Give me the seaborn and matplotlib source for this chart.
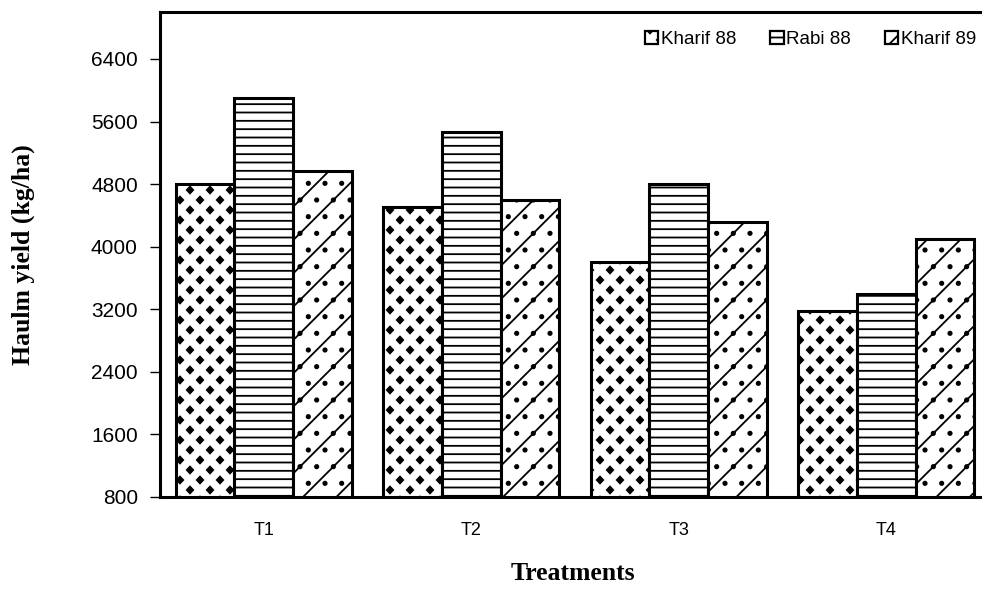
import numpy as np
import pandas as pd
import seaborn as sns
import matplotlib
matplotlib.use("Agg")
import matplotlib.pyplot as plt
import matplotlib.hatch as mhatch
from matplotlib.path import Path
from matplotlib.patches import Patch

# Haulm yield (kg/ha) per treatment and season
treatments = ["T1", "T2", "T3", "T4"]
seasons = ["Kharif 88", "Rabi 88", "Kharif 89"]
kharif_88 = [4800, 4510, 3810, 3180]
rabi_88 = [5900, 5470, 4800, 3390]
kharif_89 = [4970, 4600, 4310, 4100]
y_ticks = [800, 1600, 2400, 3200, 4000, 4800, 5600, 6400]
y_limits = (800, 7000)


class DiamondLattice(mhatch.HatchPatternBase):
    """Staggered filled diamonds, selected with '*' in a hatch string."""

    half_w = 0.032
    half_h = 0.034

    def __init__(self, hatch, density):
        cols = hatch.count('*') * 5
        self.parts = []
        if cols:
            rows = cols * 2
            for r in range(rows + 1):
                y = r / rows
                if r % 2 == 0:
                    xs = np.linspace(0, 1, cols + 1)
                else:
                    xs = (np.arange(cols) + 0.5) / cols
                for x in xs:
                    self.parts.append(np.array([
                        [x, y + self.half_h], [x + self.half_w, y],
                        [x, y - self.half_h], [x - self.half_w, y],
                        [x, y + self.half_h]]))
        self.num_vertices = 5 * len(self.parts)

    def set_vertices_and_codes(self, vertices, codes):
        shape_codes = [Path.MOVETO, Path.LINETO, Path.LINETO,
                       Path.LINETO, Path.CLOSEPOLY]
        vertices[:] = np.concatenate(self.parts)
        codes[:] = np.tile(shape_codes, len(self.parts))


mhatch._hatch_types = [t for t in mhatch._hatch_types
                       if t is not mhatch.Stars] + [DiamondLattice]

sns.set_style("ticks")
plt.rcParams["font.family"] = ["Liberation Sans", "DejaVu Sans"]
plt.rcParams["hatch.linewidth"] = 1.3
for key in ["text.color", "axes.labelcolor", "xtick.color", "ytick.color",
            "axes.edgecolor"]:
    plt.rcParams[key] = "black"

df = pd.DataFrame({
    "Treatment": np.repeat(treatments, len(seasons)),
    "Season": seasons * len(treatments),
    "Yield": np.column_stack([kharif_88, rabi_88, kharif_89]).ravel(),
})

fig = plt.figure(figsize=(9.82, 5.91), dpi=100)
ax = fig.add_axes([160 / 982, 94 / 591, 830 / 982, 485 / 591])

sns.barplot(data=df, x="Treatment", y="Yield", hue="Season",
            order=treatments, hue_order=seasons,
            palette=["white"] * 3, edgecolor="black", linewidth=2.2,
            width=0.85, errorbar=None, legend=False, ax=ax)

hatches = ["*", "--", "/."]
for container, hatch in zip(ax.containers, hatches):
    for bar in container:
        bar.set_hatch(hatch)
        bar.set_edgecolor("black")

ax.set_xlim(-0.5, 3.5)
ax.set_ylim(*y_limits)
ax.set_yticks(y_ticks)
ax.set_yticklabels([str(v) for v in y_ticks])
ax.tick_params(axis="y", length=7, width=1, pad=9, labelsize=15)
ax.tick_params(axis="x", length=0, pad=18, labelsize=13)

for side in ["left", "right", "top", "bottom"]:
    ax.spines[side].set_visible(True)
    ax.spines[side].set_linewidth(2.2)
    ax.spines[side].set_color("black")

label_font = dict(family="Liberation Serif", weight="bold", size=18.5)
ax.set_ylabel("Haulm yield (kg/ha)", va="center", **label_font)
ax.yaxis.set_label_coords((23 - 160) / 830, 0.5)
ax.set_xlabel("Treatments", va="center", **label_font)
ax.xaxis.set_label_coords((573 - 160) / 830, (497 - 573) / 485)

handles = [Patch(facecolor="white", edgecolor="black", linewidth=1.6,
                 hatch=h, label=s) for h, s in zip(hatches, seasons)]
fig.legend(handles=handles, loc="center right", ncol=3, frameon=False,
           bbox_to_anchor=(976 / 982, 1 - 39.5 / 591),
           fontsize=13.5, handlelength=0.7, handleheight=0.65,
           handletextpad=0.15, columnspacing=1.8, borderpad=0,
           borderaxespad=0)

fig.savefig("out.png", dpi=100)
